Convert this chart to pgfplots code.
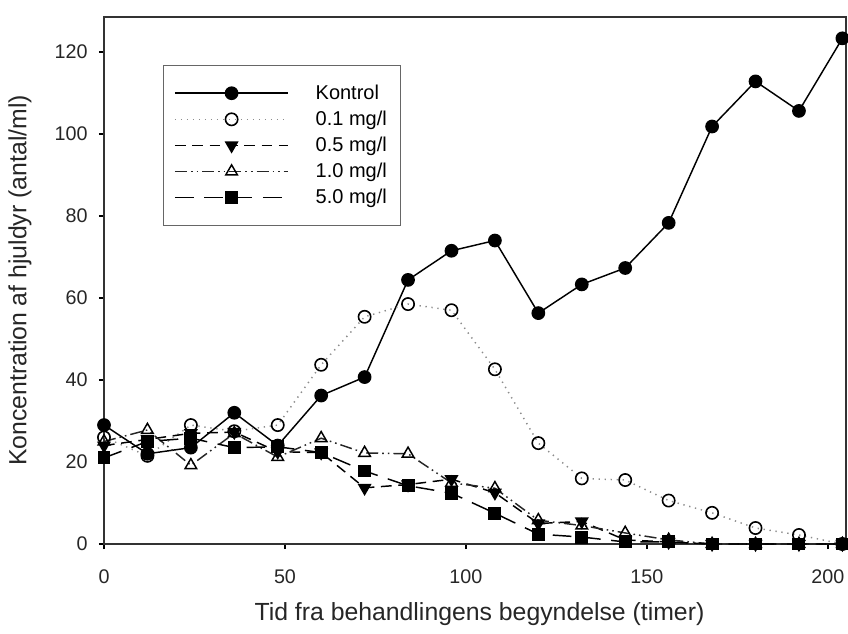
\documentclass[border=0pt]{standalone}
\usepackage{pgfplots}
\pgfplotsset{compat=1.18}
\usepackage{fontspec}
\setmainfont{Liberation Sans}
\begin{document}
\begin{tikzpicture}
\begin{axis}[
  name=ax,
  scale only axis,
  width=556.5pt, height=395.25pt,
  xmin=0, xmax=205, ymin=0, ymax=128.5,
  xtick={0,50,100,150,200},
  ytick={0,20,40,60,80,100,120},
  tick pos=left,
  tick align=outside,
  major tick length=3.75pt,
  axis line style={line width=1.1pt, black!80},
  every tick/.style={line width=1pt, black},
  /pgf/number format/assume math mode=true,
  tick label style={font=\fontsize{14.8}{17}\selectfont, black!85},
  xticklabel style={yshift=-12pt},
  yticklabel style={xshift=-5pt},
  xlabel={Tid fra behandlingens begyndelse (timer)},
  ylabel={Koncentration af hjuldyr (antal/ml)},
  label style={font=\fontsize{18.6}{22}\selectfont, black!85},
  xlabel style={at={(axis description cs:0.506,-0.1328)}, anchor=center},
  ylabel style={at={(axis description cs:-0.1132,0.5)}, anchor=center},
  legend image code/.code={\draw[mark repeat=2,mark phase=2] plot coordinates {(0pt,0pt) (42.5pt,0pt) (85pt,0pt)};},
  legend cell align=left,
  legend style={at={(axis cs:16.3,116.8)}, anchor=north west, draw=black!60, line width=0.8pt,
    font=\fontsize{15}{18}\selectfont, inner xsep=8pt, inner ysep=12.6pt, row sep=3.2pt,
    /tikz/every odd column/.style={column sep=18pt}},
]
\addplot[black, line width=1.1pt, mark=*, mark size=4.6pt, mark options={solid, fill=black}] coordinates {
(0,29) (12,22) (24,23.5) (36,32) (48,24) (60,36.2) (72,40.7) (84,64.4) (96,71.5) (108,74) (120,56.3) (132,63.3) (144,67.3) (156,78.3) (168,101.8) (180,112.8) (192,105.6) (204,123.3)};
\addlegendentry{Kontrol}
\addplot[black!45, line width=1.1pt, dash pattern=on 1pt off 3.5pt, mark=o, mark size=4.6pt, mark options={solid, black, fill=white, line width=1.2pt}] coordinates {
(0,26) (12,21.5) (24,29) (36,27.5) (48,29) (60,43.7) (72,55.4) (84,58.5) (96,57) (108,42.6) (120,24.6) (132,16) (144,15.6) (156,10.6) (168,7.6) (180,3.9) (192,2.2) (204,0)};
\addlegendentry{0.1 mg/l}
\addplot[black, line width=1.1pt, dash pattern=on 8pt off 5pt, mark=triangle*, mark size=5pt, mark options={solid, fill=black, rotate=180}] coordinates {
(0,24) (12,25.5) (24,27) (36,27.3) (48,22.5) (60,22.3) (72,13.7) (84,14.5) (96,15.8) (108,12.5) (120,5) (132,5.5) (144,1) (156,0.5) (168,0) (180,0) (192,0) (204,0)};
\addlegendentry{0.5 mg/l}
\addplot[black!85, line width=1.1pt, dash pattern=on 9pt off 3pt on 1.2pt off 3pt on 1.2pt off 3pt, mark=triangle, mark size=5pt, mark options={solid, black, fill=white, line width=1.1pt}] coordinates {
(0,25) (12,27.8) (24,19.2) (36,27) (48,21.2) (60,25.8) (72,22.2) (84,22) (96,14.9) (108,13.6) (120,5.8) (132,4.5) (144,2.7) (156,1) (168,0) (180,0) (192,0) (204,0)};
\addlegendentry{1.0 mg/l}
\addplot[black, line width=1.1pt, dash pattern=on 14pt off 8pt, mark=square*, mark size=4.3pt, mark options={solid, fill=black}] coordinates {
(0,21) (12,25) (24,25.8) (36,23.5) (48,23.7) (60,22.3) (72,17.8) (84,14.2) (96,12.4) (108,7.5) (120,2.4) (132,1.7) (144,0.5) (156,0.5) (168,0) (180,0) (192,0) (204,0)};
\addlegendentry{5.0 mg/l}
\end{axis}
\pgfresetboundingbox
\path[use as bounding box] ([xshift=-78pt,yshift=-66.75pt]ax.south west) rectangle ([xshift=1.5pt,yshift=12.75pt]ax.north east);
\end{tikzpicture}
\end{document}
